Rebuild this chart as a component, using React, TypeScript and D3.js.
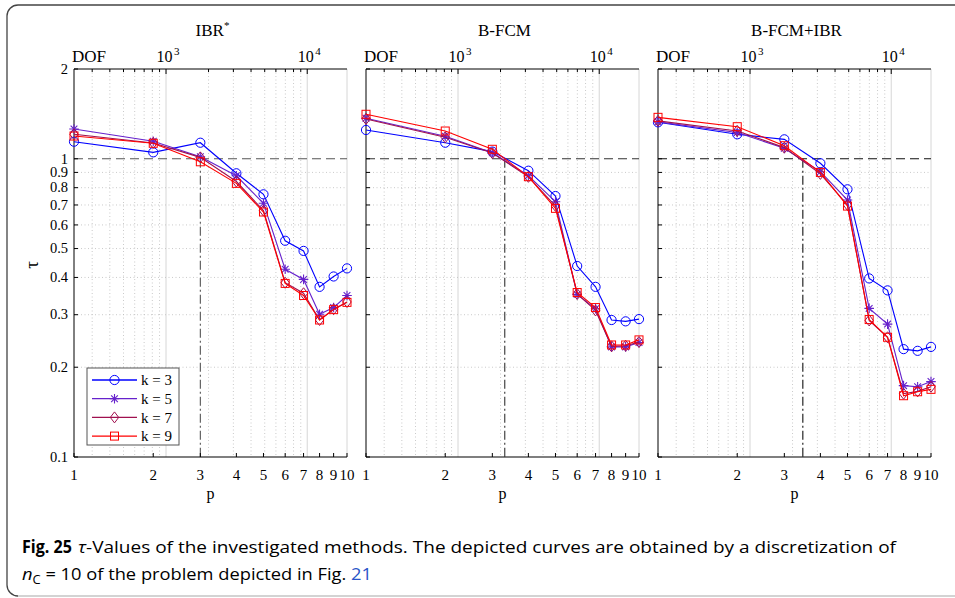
import React from "react";
import * as d3 from "d3";

const P_VALUES = [1, 2, 3, 4, 5, 6, 7, 8, 9, 10];
const DOF = [223, 812, 1750, 3150, 4900, 6980, 9420, 12230, 15380, 19130];
const TITLES = ["IBR", "B-FCM", "B-FCM+IBR"];
const K_LABELS = ["k = 3", "k = 5", "k = 7", "k = 9"];

const IBR_K3 = [1.141, 1.051, 1.132, 0.894, 0.76, 0.531, 0.491, 0.372, 0.403, 0.429];
const IBR_K5 = [1.258, 1.145, 1.016, 0.877, 0.709, 0.426, 0.394, 0.301, 0.317, 0.348];
const IBR_K7 = [1.208, 1.13, 1.011, 0.839, 0.67, 0.384, 0.354, 0.288, 0.313, 0.331];
const IBR_K9 = [1.192, 1.127, 0.977, 0.827, 0.663, 0.382, 0.348, 0.288, 0.312, 0.33];

const BFCM_K3 = [1.249, 1.132, 1.057, 0.912, 0.75, 0.437, 0.372, 0.288, 0.285, 0.29];
const BFCM_K5 = [1.367, 1.19, 1.048, 0.877, 0.718, 0.351, 0.314, 0.234, 0.234, 0.242];
const BFCM_K7 = [1.36, 1.18, 1.045, 0.87, 0.695, 0.352, 0.31, 0.235, 0.236, 0.243];
const BFCM_K9 = [1.41, 1.239, 1.076, 0.871, 0.682, 0.356, 0.317, 0.2375, 0.2375, 0.247];

const BI_K3 = [1.325, 1.208, 1.162, 0.966, 0.79, 0.397, 0.362, 0.23, 0.227, 0.234];
const BI_K5 = [1.33, 1.225, 1.084, 0.905, 0.727, 0.315, 0.279, 0.1735, 0.172, 0.179];
const BI_K7 = [1.34, 1.24, 1.09, 0.89, 0.7, 0.287, 0.252, 0.163, 0.166, 0.172];
const BI_K9 = [1.377, 1.281, 1.106, 0.9, 0.694, 0.289, 0.252, 0.1605, 0.1655, 0.1686];

const CROSS_DOF = [1750, 2143, 2366];

const Y_TICKS = [0.1, 0.2, 0.3, 0.4, 0.5, 0.6, 0.7, 0.8, 0.9, 1, 2];
const Y_TICK_LABELS = ["0.1", "0.2", "0.3", "0.4", "0.5", "0.6", "0.7", "0.8", "0.9", "1", "2"];
const DOF_MAJOR = [1000, 10000];
const DOF_MAJOR_EXP = ["3", "4"];
const DOF_MINOR = [300, 400, 500, 600, 700, 800, 900, 2000, 3000, 4000, 5000, 6000, 7000, 8000, 9000];

const PANELS = [
  [IBR_K3, IBR_K5, IBR_K7, IBR_K9],
  [BFCM_K3, BFCM_K5, BFCM_K7, BFCM_K9],
  [BI_K3, BI_K5, BI_K7, BI_K9],
];

const COLORS = ["#0000ff", "#6622cc", "#a0104f", "#ff0000"];
const MARKERS = ["circle", "star", "diamond", "square"];

const PANEL_X = [74, 366, 658];
const PW = 273;
const TOP = 69;
const BOTTOM = 457;
const SERIF = "'Liberation Serif', 'DejaVu Serif', serif";
const SANS = "'Open Sans', 'Noto Sans', sans-serif";

function Marker({ type, x, y, color }: { type: string; x: number; y: number; color: string }) {
  if (type === "circle") return <circle cx={x} cy={y} r={4.6} fill="none" stroke={color} strokeWidth={1} />;
  if (type === "square")
    return <rect x={x - 4} y={y - 4} width={8} height={8} fill="none" stroke={color} strokeWidth={1} />;
  if (type === "diamond")
    return (
      <path d={`M${x},${y - 5.5}L${x + 4.2},${y}L${x},${y + 5.5}L${x - 4.2},${y}Z`} fill="none" stroke={color} strokeWidth={1} />
    );
  const s = 4.8;
  const d = 0.7 * s;
  return (
    <path
      d={`M${x - s},${y}H${x + s}M${x},${y - s}V${y + s}M${x - d},${y - d}L${x + d},${y + d}M${x - d},${y + d}L${x + d},${y - d}`}
      stroke={color}
      strokeWidth={1.1}
      fill="none"
    />
  );
}

function Panel({ idx }: { idx: number }) {
  const x0 = PANEL_X[idx];
  const x = d3.scaleLog().domain([DOF[0], DOF[DOF.length - 1]]).range([x0, x0 + PW]);
  const y = d3.scaleLog().domain([0.1, 2]).range([BOTTOM, TOP]);
  const line = d3
    .line<number>()
    .x((_, i) => x(DOF[i]))
    .y((v) => y(v));
  const series = PANELS[idx];
  const cx = x0 + PW / 2;
  const crossX = x(CROSS_DOF[idx]);
  const refColor = idx === 2 ? "#111" : idx === 1 ? "#333" : "#555";
  return (
    <g>
      {DOF_MINOR.map((v) => (
        <line key={"gm" + v} x1={x(v)} x2={x(v)} y1={TOP} y2={BOTTOM} stroke="#bdbdbd" strokeWidth={0.8} strokeDasharray="1,2.5" />
      ))}
      {DOF_MAJOR.map((v) => (
        <line key={"gM" + v} x1={x(v)} x2={x(v)} y1={TOP} y2={BOTTOM} stroke="#d6d6d6" strokeWidth={1} />
      ))}
      <line x1={x0 + PW} x2={x0 + PW} y1={TOP} y2={BOTTOM} stroke="#d6d6d6" strokeWidth={1} />
      {Y_TICKS.filter((v) => v < 1 && v > 0.1).map((v) => (
        <line key={"gy" + v} x1={x0} x2={x0 + PW} y1={y(v)} y2={y(v)} stroke="#bdbdbd" strokeWidth={0.8} strokeDasharray="1,2.5" />
      ))}
      <line x1={x0} x2={x0 + PW} y1={y(1)} y2={y(1)} stroke={refColor} strokeWidth={1.1} strokeDasharray="9,5" />
      <line x1={crossX} x2={crossX} y1={y(1)} y2={BOTTOM} stroke={refColor} strokeWidth={1.1} strokeDasharray="9,3,2,3" />
      <line x1={x0} x2={x0} y1={TOP} y2={BOTTOM} stroke="#000" strokeWidth={1} />
      <line x1={x0} x2={x0 + PW} y1={BOTTOM} y2={BOTTOM} stroke="#000" strokeWidth={1.2} />
      <line x1={x0} x2={x0 + PW} y1={TOP} y2={TOP} stroke="#000" strokeWidth={1} />
      {Y_TICKS.map((v) => (
        <line key={"yt" + v} x1={x0} x2={x0 + 4} y1={y(v)} y2={y(v)} stroke="#000" strokeWidth={1} />
      ))}
      {DOF_MINOR.map((v) => (
        <line key={"tm" + v} x1={x(v)} x2={x(v)} y1={TOP} y2={TOP + 3} stroke="#000" strokeWidth={1} />
      ))}
      {DOF_MAJOR.map((v) => (
        <line key={"tM" + v} x1={x(v)} x2={x(v)} y1={TOP} y2={TOP + 5} stroke="#000" strokeWidth={1} />
      ))}
      {DOF.map((v, i) => (
        <line key={"pt" + i} x1={x(v)} x2={x(v)} y1={BOTTOM} y2={BOTTOM - 4} stroke="#000" strokeWidth={1} />
      ))}
      {idx === 0 &&
        Y_TICKS.map((v, i) => (
          <text key={"yl" + v} x={x0 - 6} y={y(v)} dy="0.33em" textAnchor="end" fontFamily={SERIF} fontSize={14.5}>
            {Y_TICK_LABELS[i]}
          </text>
        ))}
      {P_VALUES.map((p, i) => (
        <text key={"pl" + p} x={x(DOF[i])} y={480} textAnchor="middle" fontFamily={SERIF} fontSize={15}>
          {p}
        </text>
      ))}
      {DOF_MAJOR.map((v, i) => (
        <text key={"dl" + v} x={x(v) + 2} y={62} textAnchor="middle" fontFamily={SERIF} fontSize={16}>
          10
          <tspan dx={1.5} dy={-7} fontSize={11}>
            {DOF_MAJOR_EXP[i]}
          </tspan>
        </text>
      ))}
      <text x={x0 - 2} y={62} fontFamily={SERIF} fontSize={17}>
        DOF
      </text>
      <text x={cx + 2} y={36} textAnchor="middle" fontFamily={SERIF} fontSize={17}>
        {TITLES[idx]}
        {idx === 0 && (
          <tspan dy={-7} fontSize={11}>
            *
          </tspan>
        )}
      </text>
      <text x={cx} y={499} textAnchor="middle" fontFamily={SERIF} fontSize={16}>
        p
      </text>
      {series.map((vals, k) => (
        <g key={"s" + k}>
          <path d={line(vals) || ""} fill="none" stroke={COLORS[k]} strokeWidth={1.1} />
          {vals.map((v, i) => (
            <Marker key={i} type={MARKERS[k]} x={x(DOF[i])} y={y(v)} color={COLORS[k]} />
          ))}
        </g>
      ))}
    </g>
  );
}

function Legend() {
  const lx = 87;
  const ly = 368;
  return (
    <g>
      <rect x={lx} y={ly} width={92} height={77} fill="#fff" stroke="#555" strokeWidth={1} />
      {K_LABELS.map((lab, k) => {
        const yy = ly + 12 + k * 18.7;
        return (
          <g key={lab}>
            <line x1={lx + 5} x2={lx + 50} y1={yy} y2={yy} stroke={COLORS[k]} strokeWidth={1.3} />
            <Marker type={MARKERS[k]} x={lx + 27.5} y={yy} color={COLORS[k]} />
            <text x={lx + 54} y={yy} dy="0.35em" fontFamily={SERIF} fontSize={15}>
              {lab}
            </text>
          </g>
        );
      })}
    </g>
  );
}

export default function App() {
  return (
    <svg
      width={955}
      height={598}
      viewBox="0 0 955 598"
      style={{ position: "absolute", left: 0, top: 0, background: "#fff" }}
    >
      <rect x={0} y={0} width={955} height={598} fill="#fff" />
      <path d="M960,5H18A11,11 0 0 0 7,16V585A11,11 0 0 0 18,596" fill="none" stroke="#444" strokeWidth={1.3} />
      <line x1={18} x2={960} y1={596} y2={596} stroke="#c4c4c4" strokeWidth={1.3} />
      {[0, 1, 2].map((i) => (
        <Panel key={i} idx={i} />
      ))}
      <Legend />
      <text x={38} y={265} textAnchor="middle" fontFamily={SERIF} fontSize={19} transform="rotate(-90,38,265)">
        τ
      </text>
      <text x={22} y={553} fontFamily={SANS} fontSize={17} fontWeight="bold" textLength={50} lengthAdjust="spacingAndGlyphs">
        Fig. 25
      </text>
      <text x={78} y={553} fontFamily={SANS} fontSize={17} textLength={818} lengthAdjust="spacingAndGlyphs">
        <tspan fontStyle="italic">τ</tspan>
        -Values of the investigated methods. The depicted curves are obtained by a discretization of
      </text>
      <text x={22} y={580} fontFamily={SANS} fontSize={17} textLength={350} lengthAdjust="spacingAndGlyphs">
        <tspan fontStyle="italic">n</tspan>
        <tspan dy={4} fontSize={12}>
          C
        </tspan>
        <tspan dy={-4}> = 10 of the problem depicted in Fig. </tspan>
        <tspan fill="#2a55c8">21</tspan>
      </text>
    </svg>
  );
}
